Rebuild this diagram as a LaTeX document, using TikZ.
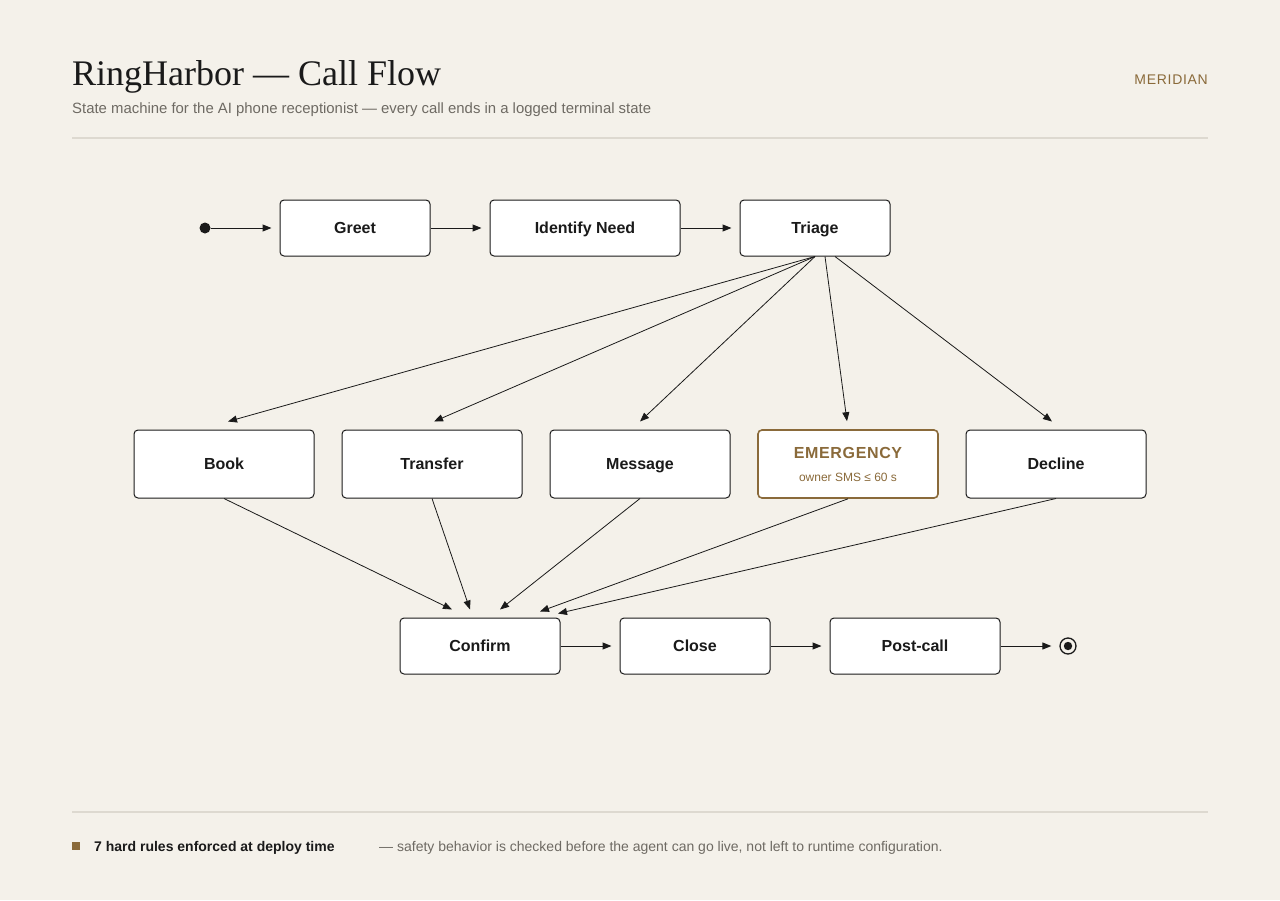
\documentclass[tikz,border=0pt]{standalone}
\usepackage{fontspec}
\setmainfont{Liberation Serif}
\setsansfont{Liberation Sans}
\usepackage{xcolor}
\usetikzlibrary{arrows.meta}
\definecolor{carta}{HTML}{F4F1EA}
\definecolor{bronzo}{HTML}{8A6A3A}
\definecolor{grigio}{HTML}{6E6A63}
\definecolor{filetto}{HTML}{DDD9D0}
\definecolor{inchiostro}{HTML}{1A1A1A}

\begin{document}
\begin{tikzpicture}[x=1pt, y=-1pt,
        every node/.style={font=\sffamily, text=inchiostro},
        testo/.style={anchor=base west, inner sep=0pt},
        stato/.style={draw=inchiostro, fill=white, rounded corners=4pt,
            line width=1pt, inner sep=0pt,
            font=\sffamily\bfseries\fontsize{16}{19}\selectfont},
        riga/.style={text height=11.5pt, text depth=0.6pt},
        freccia/.style={-{Triangle[length=9pt,width=7pt]}, line width=1pt, draw=inchiostro},
        diag/.style={-{Triangle[length=9pt,width=7pt]}, line width=0.8pt, draw=inchiostro}]
        % Sfondo e riquadro
        \fill[carta] (0,0) rectangle (1280,900);
        \useasboundingbox (0,0) rectangle (1280,900);

        % Intestazione
        \node[testo, font=\rmfamily\fontsize{36}{40}\selectfont] (titolo) at (72,85) {RingHarbor — Call Flow};
        \node[testo, text=grigio, font=\sffamily\fontsize{14.9}{17}\selectfont] (sottotitolo) at (72,113)
            {State machine for the AI phone receptionist — every call ends in a logged terminal state};
        \node[anchor=base east, inner sep=0pt, text=bronzo, font=\sffamily\fontsize{14}{17}\selectfont\addfontfeatures{LetterSpace=5}] (marchio) at (1208,84) {MERIDIAN};
        \draw[filetto, line width=1.2pt] (72,138) -- (1208,138);

        % Riga superiore
        \node[circle, fill=inchiostro, minimum size=11pt, inner sep=0pt] (inizio) at (205,228) {};
        \node[stato, riga, minimum width=150pt, minimum height=56pt] (greet) at (355,228) {Greet};
        \node[stato, riga, minimum width=190pt, minimum height=56pt] (need) at (585,228) {Identify Need};
        \node[stato, riga, minimum width=150pt, minimum height=56pt] (triage) at (815,228) {Triage};

        % Rami del triage
        \foreach \nome/\x/\testo in {book/224/Book, transfer/432/Transfer, message/640/Message, decline/1056/Decline}{
                \node[stato, riga, minimum width=180pt, minimum height=68pt] (\nome) at (\x,464) {\testo};
            }
        \node[stato, draw=bronzo, line width=1.6pt, minimum width=180pt, minimum height=68pt, align=center] (emergency) at (848,464)
            {\textcolor{bronzo}{\addfontfeatures{LetterSpace=4}EMERGENCY}\\[4pt]
             {\mdseries\fontsize{12}{14}\selectfont\textcolor{bronzo}{owner SMS ≤ 60 s}}};

        % Riga inferiore
        \node[stato, riga, minimum width=160pt, minimum height=56pt] (confirm) at (480,646) {Confirm};
        \node[stato, riga, minimum width=150pt, minimum height=56pt] (close) at (695,646) {Close};
        \node[stato, riga, minimum width=170pt, minimum height=56pt] (postcall) at (915,646) {Post-call};
        \node[circle, draw=inchiostro, line width=1.3pt, minimum size=16pt, inner sep=0pt] (fine) at (1068,646) {};
        \fill[inchiostro] (fine) circle (4.2pt);

        % Transizioni orizzontali
        \draw[freccia] (inizio) -- ([xshift=-8pt]greet.west);
        \draw[freccia] (greet) -- ([xshift=-8pt]need.west);
        \draw[freccia] (need) -- ([xshift=-8pt]triage.west);
        \draw[freccia] (confirm) -- ([xshift=-8pt]close.west);
        \draw[freccia] (close) -- ([xshift=-8pt]postcall.west);
        \draw[freccia] (postcall) -- ([xshift=-8pt]fine.west);

        % Dal triage ai rami
        \foreach \nome/\dx/\ex in {book/0/4, transfer/0/2, message/0/0, emergency/10/-1, decline/20/-4}{
                \draw[diag] ([xshift=\dx pt]triage.south) -- ([xshift=\ex pt, yshift=8pt]\nome.north);
            }

        % Dai rami alla conferma
        \foreach \nome/\ex/\ey in {book/-28/8, transfer/-10/8, message/20/8, emergency/60/6, decline/78/4}{
                \draw[diag] (\nome.south) -- ([xshift=\ex pt, yshift=\ey pt]confirm.north);
            }

        % Piede
        \draw[filetto, line width=1.2pt] (72,812) -- (1208,812);
        \fill[bronzo] (72,842) rectangle (80,850);
        \node[testo, font=\sffamily\bfseries\fontsize{14}{17}\selectfont] (regole) at (94,851)
            {7 hard rules enforced at deploy time};
        \node[testo, text=grigio, font=\sffamily\fontsize{14}{17}\selectfont] (nota) at (379,851)
            {— safety behavior is checked before the agent can go live, not left to runtime configuration.};
    \end{tikzpicture}
\end{document}
